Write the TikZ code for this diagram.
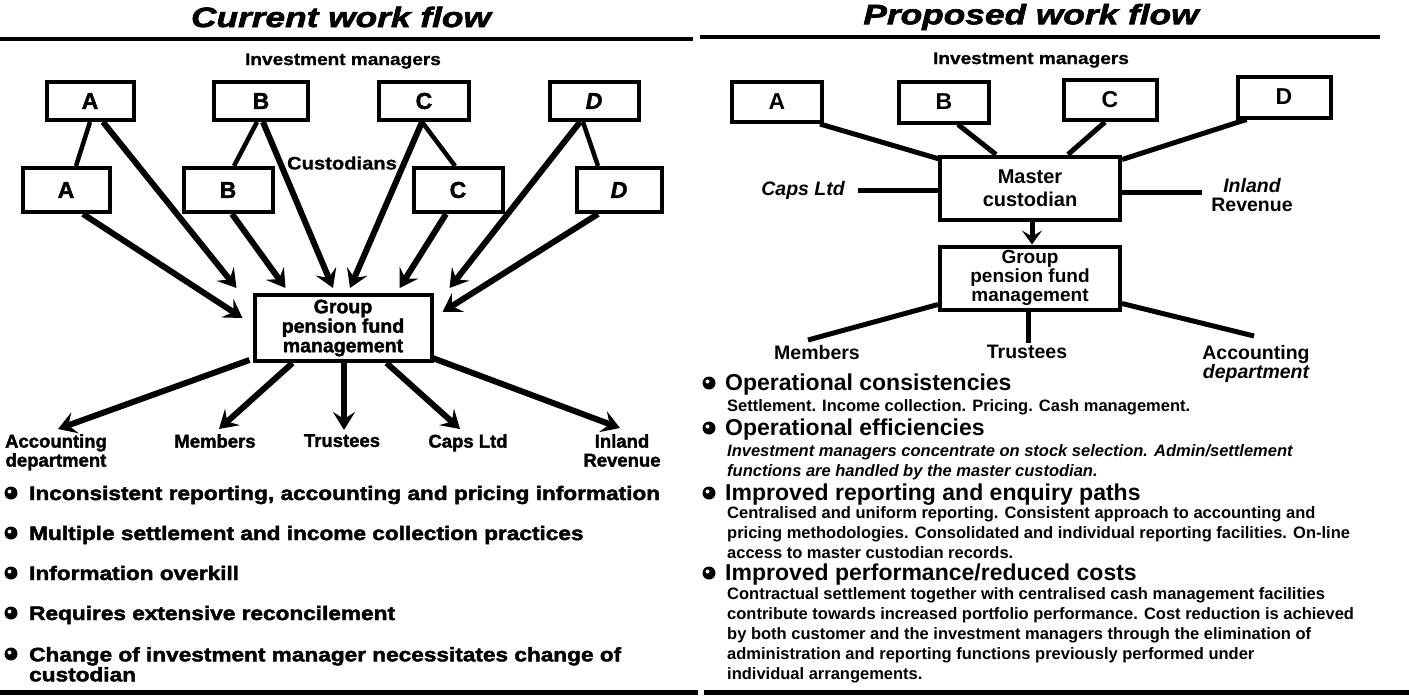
\documentclass[tikz,border=0pt]{standalone}
\usepackage{fontspec}
\setmainfont{Liberation Sans}
\newfontfamily\hvhead{Liberation Sans Bold Italic}[FakeBold=2.2,FakeStretch=1.26]
\newfontfamily\hvbul{Liberation Sans Bold}[FakeBold=2.2,FakeStretch=1.16]
\newfontfamily\hvlab{Liberation Sans Bold}[FakeBold=1.8]
\newfontfamily\hvim{Liberation Sans Bold}[FakeBold=1.0,FakeStretch=1.12]
\usetikzlibrary{arrows.meta}
\newcommand{\fsz}[2]{\fontsize{#1}{#2}\selectfont}
\begin{document}
\begin{tikzpicture}[x=1pt,y=-1pt,
  box/.style={draw, line width=4pt, inner sep=0pt, font=\hvlab\fsz{23}{23}},
  rbox/.style={draw, line width=4pt, inner sep=0pt, font=\bfseries\fsz{23}{23}},
  gbox/.style={draw, line width=4pt, inner sep=0pt, align=center, font=\hvlab\fsz{19.5}{19.5}},
  arr/.style={line width=6pt, -{Stealth[length=18pt,width=22pt,inset=7pt]}},
  tie/.style={line width=4.5pt},
  rtie/.style={line width=5pt},
  lbl/.style={font=\hvlab\fsz{18.5}{19}, align=center, inner sep=0pt},
  rlbl/.style={font=\bfseries\fsz{19.5}{19}, align=center, inner sep=0pt},
  head/.style={font=\hvhead\fsz{28}{28}, inner sep=0pt},
  imtxt/.style={font=\hvim\fsz{17}{17}, inner sep=0pt},
  lbul/.style={font=\hvbul\fsz{19.5}{20}, inner sep=0pt, align=left},
  rhead/.style={font=\bfseries\fsz{23}{23}, anchor=base west, inner sep=0pt},
  rbody/.style={font=\bfseries\fsz{16.5}{20}, anchor=north west, inner sep=0pt, align=left},
  rule/.style={line width=3.5pt}]
\useasboundingbox (0,0) rectangle (1409,696);

% ---------------- LEFT ----------------
\node[head] (lhead) at (341,17) {Current work flow};
\coordinate (lr1) at (0,39); \coordinate (lr2) at (693,39);
\draw[rule] (lr1) -- (lr2);
\node[imtxt] (lim) at (343,61) {Investment managers};

\node[box, minimum width=87pt, minimum height=38pt] (a1) at (90,101) {A};
\node[box, minimum width=94pt, minimum height=38pt] (b1) at (261,101) {B};
\node[box, minimum width=90pt, minimum height=38pt] (c1) at (424,101) {C};
\node[box, minimum width=89pt, minimum height=38pt] (d1) at (594,101) {\itshape D};

\node[box, minimum width=87pt, minimum height=44pt] (a2) at (66,190) {A};
\node[box, minimum width=89pt, minimum height=44pt] (b2) at (228,190) {B};
\node[box, minimum width=89pt, minimum height=44pt] (c2) at (458,190) {C};
\node[box, minimum width=85pt, minimum height=44pt] (d2) at (619,190) {\itshape D};

\node[imtxt, font=\hvim\fsz{18}{18}] (cust) at (342,163) {Custodians};

\draw[tie] (a1.south) -- ([xshift=10pt]a2.north);
\draw[tie] ([xshift=-4pt]b1.south) -- ([xshift=6pt]b2.north);
\draw[tie] ([xshift=-2pt]c1.south) -- ([xshift=-3pt]c2.north);
\draw[tie] ([xshift=-11pt]d1.south) -- ([xshift=-21pt]d2.north);

\node[gbox, minimum width=177pt, minimum height=66pt] (grp) at (343,328) {Group\\pension fund\\management};

\draw[arr] ([xshift=13pt]a1.south) -- ([xshift=-16pt,yshift=5pt]grp.north west);
\draw[arr] ([xshift=17pt]a2.south) -- ([xshift=-10pt,yshift=-25pt]grp.north west);
\draw[arr] ([xshift=4pt]b2.south) -- ([xshift=33pt,yshift=5pt]grp.north west);
\draw[arr] ([xshift=2pt]b1.south) -- ([xshift=-10pt,yshift=5pt]grp.north);
\draw[arr] ([xshift=-2pt]c1.south) -- ([xshift=7pt,yshift=5pt]grp.north);
\draw[arr] ([xshift=-12pt]c2.south) -- ([xshift=-34pt,yshift=5pt]grp.north east);
\draw[arr] ([xshift=-14pt]d1.south) -- ([xshift=16pt,yshift=5pt]grp.north east);
\draw[arr] ([xshift=-21pt]d2.south) -- ([xshift=9pt,yshift=-19pt]grp.north east);

\node[lbl, anchor=north] (acc) at (56,434) {Accounting\\department};
\node[lbl, anchor=north] (mem) at (215,434) {Members};
\node[lbl, anchor=north] (tru) at (342,434) {Trustees};
\node[lbl, anchor=north] (caps) at (468,434) {Caps Ltd};
\node[lbl, anchor=north] (inl) at (622,434) {Inland\\Revenue};

\draw[arr] ([xshift=-3pt,yshift=3pt]grp.south west) -- ([xshift=2pt,yshift=5pt]acc.north);
\draw[arr] ([xshift=40pt]grp.south west) -- ([xshift=4pt,yshift=5pt]mem.north);
\draw[arr] ([xshift=1pt]grp.south) -- ([xshift=2pt,yshift=4pt]tru.north);
\draw[arr] ([xshift=-47pt]grp.south east) -- ([xshift=-8pt,yshift=5pt]caps.north);
\draw[arr] ([xshift=-1pt,yshift=5pt]grp.south east) -- ([xshift=-2pt,yshift=6pt]inl.north);

% left bullets
\foreach \yy in {493,533,573,613,654} {\fill (11,\yy) circle (6.5pt); \fill[white] (9.5,\yy-1.5) circle (2pt);}
\node[lbul, anchor=base west] (lb1) at (29,500) {Inconsistent reporting, accounting and pricing information};
\node[lbul, anchor=base west] (lb2) at (29,540) {Multiple settlement and income collection practices};
\node[lbul, anchor=base west] (lb3) at (29,580) {Information overkill};
\node[lbul, anchor=base west] (lb4) at (29,620) {Requires extensive reconcilement};
\node[lbul, anchor=north west] (lb5) at (29,647) {Change of investment manager necessitates change of\\custodian};

\coordinate (lbl1) at (0,692); \coordinate (lbl2) at (698,692);
\draw[line width=5pt] (lbl1) -- (lbl2);

% ---------------- RIGHT ----------------
\node[head] (rhead) at (1031,17) {Proposed work flow};
\coordinate (rr1) at (700,37); \coordinate (rr2) at (1380,37);
\draw[rule] (rr1) -- (rr2);
\node[imtxt] (rim) at (1031,60) {Investment managers};

\node[rbox, minimum width=90pt, minimum height=40pt] (ra) at (777,102) {A};
\node[rbox, minimum width=90pt, minimum height=41pt] (rb) at (944,102) {B};
\node[rbox, minimum width=93pt, minimum height=40pt] (rc) at (1110,100) {C};
\node[rbox, minimum width=93pt, minimum height=41pt] (rd) at (1284,97) {D};

\node[gbox, font=\bfseries\fsz{20}{23}, minimum width=180pt, minimum height=63pt] (mc) at (1030,188) {Master\\custodian};
\node[gbox, font=\bfseries\fsz{19}{19}, minimum width=180pt, minimum height=63pt] (rg) at (1030,278) {Group\\pension fund\\management};

\draw[rtie] ([xshift=-4pt]ra.south east) -- ([xshift=3pt,yshift=-5pt]mc.north west);
\draw[rtie] ([xshift=14pt]rb.south) -- ([xshift=-34pt]mc.north);
\draw[rtie] ([xshift=-5pt]rc.south) -- ([xshift=38pt]mc.north);
\draw[rtie] ([xshift=11pt]rd.south west) -- ([yshift=-5pt]mc.north east);

\node[rlbl, font=\bfseries\itshape\fsz{19.5}{19}, anchor=east] (rcaps) at (845,190) {Caps Ltd};
\node[rlbl] (rinl) at (1252,195) {{\itshape Inland}\\Revenue};
\draw[rtie] ([xshift=13pt]rcaps.east) -- (rcaps.east -| mc.west);
\draw[rtie] ([yshift=-2pt]rcaps.east -| mc.east) -- ([xshift=-9pt,yshift=-2pt]rcaps.east -| rinl.west);

\draw[line width=5pt, -{Stealth[length=14pt,width=20pt,inset=6pt]}] ([xshift=2pt]mc.south) -- ([xshift=2pt]rg.north);

\node[rlbl, anchor=north] (rmem) at (817,345) {Members};
\node[rlbl, anchor=north] (rtru) at (1027,345) {Trustees};
\node[rlbl, anchor=north] (racc) at (1256,345) {Accounting\\{\itshape department}};

\draw[rtie] ([yshift=7pt]rg.south west) -- ([xshift=-9pt,yshift=5pt]rmem.north);
\draw[rtie] ([xshift=-2pt]rg.south) -- ([xshift=1pt,yshift=2pt]rtru.north);
\draw[rtie] ([yshift=8pt]rg.south east) -- ([xshift=-2pt,yshift=9pt]racc.north);

% right bullets
\foreach \yy in {383,428,493,573} {\fill (709,\yy) circle (6.5pt); \fill[white] (707.5,\yy-1.5) circle (2pt);}
\node[rhead] (rh1) at (725,390) {Operational consistencies};
\node[rbody] (rt1) at (727,399) {Settlement. Income collection. Pricing. Cash management.};
\node[rhead] (rh2) at (725,435) {Operational efficiencies};
\node[rbody, font=\bfseries\itshape\fsz{16.5}{20}] (rt2) at (727,444) {Investment managers concentrate on stock selection. Admin/settlement\\functions are handled by the master custodian.};
\node[rhead] (rh3) at (725,500) {Improved reporting and enquiry paths};
\node[rbody] (rt3) at (727,506) {Centralised and uniform reporting. Consistent approach to accounting and\\pricing methodologies. Consolidated and individual reporting facilities. On-line\\access to master custodian records.};
\node[rhead] (rh4) at (725,580) {Improved performance/reduced costs};
\node[rbody] (rt4) at (727,587) {Contractual settlement together with centralised cash management facilities\\contribute towards increased portfolio performance. Cost reduction is achieved\\by both customer and the investment managers through the elimination of\\administration and reporting functions previously performed under\\individual arrangements.};

\coordinate (rbl1) at (704,692); \coordinate (rbl2) at (1409,692);
\draw[line width=5pt] (rbl1) -- (rbl2);
\end{tikzpicture}
\end{document}
